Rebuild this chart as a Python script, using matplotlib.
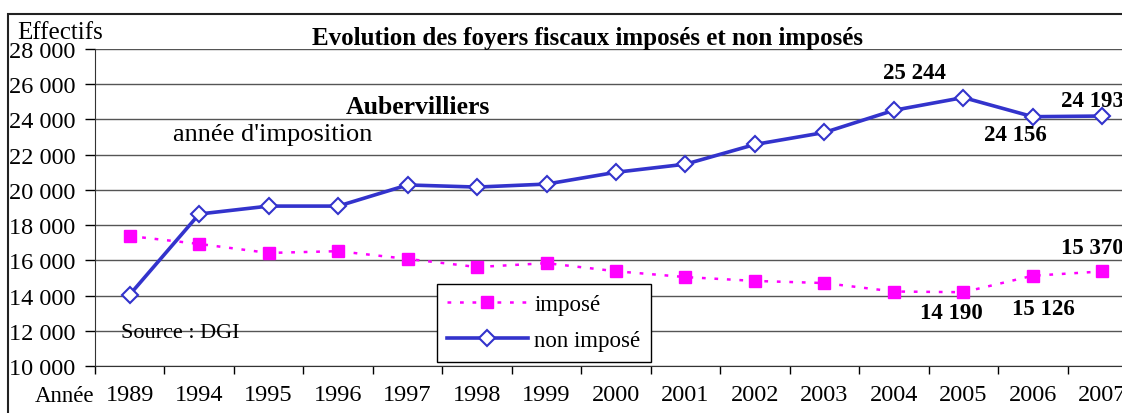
import matplotlib
matplotlib.use("Agg")
import matplotlib.pyplot as plt
from matplotlib.patches import Rectangle
from matplotlib.ticker import FuncFormatter

plt.rcParams['font.family'] = ['Liberation Serif', 'DejaVu Serif']

# données
annees = ["1989", "1994", "1995", "1996", "1997", "1998", "1999", "2000",
          "2001", "2002", "2003", "2004", "2005", "2006", "2007"]
non_impose = [14050, 18630, 19080, 19080, 20280, 20160, 20330, 21000,
              21460, 22580, 23260, 24520, 25244, 24156, 24193]
impose = [17380, 16930, 16420, 16520, 16080, 15620, 15840, 15380,
          15050, 14830, 14710, 14230, 14190, 15126, 15370]

# étiquettes : (indice, décalage en pixels)
etiquettes_non_impose = [(12, (-49, 25)), (13, (-17, -18)), (14, (-10, 16))]
etiquettes_impose = [(12, (-12, -20)), (13, (11, -33)), (14, (-10, 24))]

W, H = 1122, 414
fig = plt.figure(figsize=(W / 100, H / 100), dpi=100)

# cadre extérieur
fig.patches.append(Rectangle((8 / W, -0.1), 1.2, 1 - 15 / H + 0.1, transform=fig.transFigure,
                             fill=False, edgecolor="#222222", linewidth=1.5))

ax = fig.add_axes([95 / W, 1 - 367 / H, 1042 / W, (367 - 50) / H])
x = list(range(len(annees)))

ax.plot(x, non_impose, "-", color="#3333CC", linewidth=2.6, marker="D",
        markersize=8, markerfacecolor="white", markeredgecolor="#3333CC",
        markeredgewidth=1.5, label="non imposé", zorder=3)
ax.plot(x, impose, linestyle=(0, (1.5, 3.5)), color="#FF00FF", linewidth=1.8,
        marker="s", markersize=9, markerfacecolor="#FF00FF", markeredgecolor="#FF00FF",
        label="imposé", zorder=3)

ax.set_xlim(-0.5, len(annees) - 0.5)
ax.set_ylim(10000, 28000)
ax.set_yticks(range(10000, 28001, 2000))
ax.yaxis.set_major_formatter(FuncFormatter(lambda v, p: f"{int(v):,}".replace(",", " ")))
ax.yaxis.grid(True, color="#555555", linewidth=1)
ax.set_axisbelow(True)

ax.set_xticks(x)
ax.set_xticklabels(annees)
ax.set_xticks([i - 0.5 for i in range(len(annees) + 1)], minor=True)
ax.tick_params(axis="x", which="major", length=0, pad=13, labelsize=17.5)
ax.tick_params(axis="x", which="minor", length=6, width=1, direction="out")
ax.tick_params(axis="y", length=7, width=1, pad=7, labelsize=17.5)

for s in ["top", "right"]:
    ax.spines[s].set_visible(False)
ax.spines["left"].set_color("#333333")
ax.spines["bottom"].set_color("#333333")

for i, (dx, dy) in etiquettes_non_impose:
    ax.annotate(f"{non_impose[i]:,}".replace(",", " "), (x[i], non_impose[i]),
                xytext=(dx, dy), textcoords="offset pixels", ha="center", va="center",
                fontsize=16.5, fontweight="bold")
for i, (dx, dy) in etiquettes_impose:
    ax.annotate(f"{impose[i]:,}".replace(",", " "), (x[i], impose[i]),
                xytext=(dx, dy), textcoords="offset pixels", ha="center", va="center",
                fontsize=16.5, fontweight="bold")

handles, labels = ax.get_legend_handles_labels()
leg = ax.legend(handles[::-1], labels[::-1], loc="upper left",
                bbox_to_anchor=(437 / W, 1 - 285 / H), bbox_transform=fig.transFigure,
                borderaxespad=0, fancybox=False, edgecolor="black", fontsize=16.5,
                handlelength=3.5, handletextpad=0.3, framealpha=1,
                borderpad=0.45, labelspacing=0.65)
leg.get_frame().set_linewidth(1)

fig.text(588 / W, 1 - 38 / H, "Evolution des foyers fiscaux imposés et non imposés",
         ha="center", va="center", fontsize=18, fontweight="bold")
fig.text(17 / W, 1 - 33 / H, "Effectifs", ha="left", va="center", fontsize=18)
fig.text(418 / W, 1 - 108 / H, "Aubervilliers", ha="center", va="center",
         fontsize=18.5, fontweight="bold")
fig.text(173 / W, 1 - 135 / H, "année d'imposition", ha="left", va="center", fontsize=19)
fig.text(121 / W, 1 - 334 / H, "Source : DGI", ha="left", va="center", fontsize=16)
fig.text(35 / W, 1 - 397 / H, "Année", ha="left", va="center", fontsize=16.5)

fig.savefig("out.png", dpi=100)
